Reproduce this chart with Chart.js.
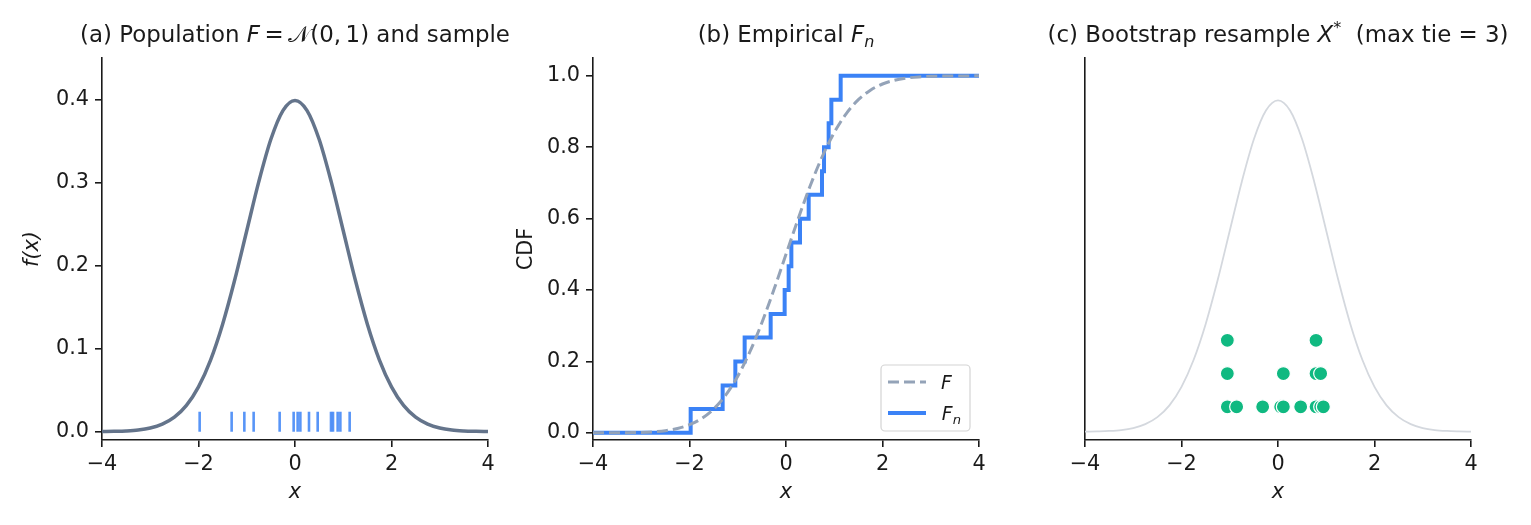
<!DOCTYPE html>
<html>
<head>
<meta charset="utf-8">
<script src="https://cdn.jsdelivr.net/npm/chart.js@4.4.1/dist/chart.umd.min.js"></script>
<style>
  body { margin: 0; background: #fff; }
  .panel { position: absolute; top: 0; }
</style>
</head>
<body>
<canvas id="pa" class="panel" width="520" height="525" style="left:0px"></canvas>
<canvas id="pb" class="panel" width="505" height="525" style="left:505px"></canvas>
<canvas id="pc" class="panel" width="521" height="525" style="left:1010px"></canvas>
<script>
// tick labels
const xTicks = [-4, -2, 0, 2, 4];
const yTicksA = [0.0, 0.1, 0.2, 0.3, 0.4];
const yTicksB = [0.0, 0.2, 0.4, 0.6, 0.8, 1.0];

const gridX = [-4, -3.75, -3.5, -3.25, -3, -2.75, -2.5, -2.25, -2, -1.75, -1.5, -1.25, -1, -0.75, -0.5, -0.25,
  0, 0.25, 0.5, 0.75, 1, 1.25, 1.5, 1.75, 2, 2.25, 2.5, 2.75, 3, 3.25, 3.5, 3.75, 4];
const pdfY = [0.0001, 0.0004, 0.0009, 0.0020, 0.0044, 0.0091, 0.0175, 0.0317, 0.0540, 0.0863, 0.1295, 0.1826,
  0.2420, 0.3011, 0.3521, 0.3867, 0.3989, 0.3867, 0.3521, 0.3011, 0.2420, 0.1826, 0.1295, 0.0863, 0.0540,
  0.0317, 0.0175, 0.0091, 0.0044, 0.0020, 0.0009, 0.0004, 0.0001];
const cdfY = [0.0000, 0.0001, 0.0002, 0.0006, 0.0013, 0.0030, 0.0062, 0.0122, 0.0228, 0.0401, 0.0668, 0.1056,
  0.1587, 0.2266, 0.3085, 0.4013, 0.5000, 0.5987, 0.6915, 0.7734, 0.8413, 0.8944, 0.9332, 0.9599, 0.9772,
  0.9878, 0.9938, 0.9970, 0.9987, 0.9994, 0.9998, 0.9999, 1.0000];

// the sample (n = 15)
const sampleX = [-1.976, -1.313, -1.050, -0.857, -0.318, -0.028, 0.055, 0.111, 0.290, 0.470, 0.746, 0.788, 0.884, 0.940, 1.133];
const rugY = 0.012;

// empirical CDF, step points
const ecdfX = [-4, -1.976, -1.313, -1.050, -0.857, -0.318, -0.028, 0.055, 0.111, 0.290, 0.470, 0.746, 0.788, 0.884, 0.940, 1.133, 4];
const ecdfY = [0, 0.067, 0.133, 0.2, 0.267, 0.333, 0.4, 0.467, 0.533, 0.6, 0.667, 0.733, 0.8, 0.867, 0.933, 1.0, 1.0];

// bootstrap resample, stacked by tie count
const bootX = [-1.050, -1.050, -1.050, -0.857, -0.318, 0.055, 0.111, 0.111, 0.470, 0.788, 0.788, 0.788, 0.884, 0.884, 0.940];
const bootY = [0.03, 0.07, 0.11, 0.03, 0.03, 0.03, 0.03, 0.07, 0.03, 0.03, 0.07, 0.11, 0.03, 0.07, 0.03];

const FAM = "'DejaVu Sans', sans-serif";
const INK = '#1a1a1a';
const TICK = 20.8;
const TITLE = 22.9;

const pts = (xs, ys) => xs.map((x, i) => ({ x: x, y: ys[i] }));
const minus = v => String(v).replace('-', '\u2212');

function drawParts(ctx, parts, cx, baseY, size) {
  const fontOf = p => (p.italic ? 'italic ' : '') + (size * (p.scale || 1)) + 'px ' + FAM;
  let total = 0;
  parts.forEach(p => { ctx.font = fontOf(p); p.w = ctx.measureText(p.text).width; total += p.w; });
  let x = cx - total / 2;
  ctx.textAlign = 'left';
  ctx.textBaseline = 'alphabetic';
  ctx.fillStyle = INK;
  parts.forEach(p => {
    ctx.font = fontOf(p);
    ctx.fillText(p.text, x, baseY + (p.dy || 0) * size);
    x += p.w;
  });
}

// panel titles with italic / sub / superscript bits
const panelTitle = {
  id: 'panelTitle',
  afterDraw(chart, args, opts) {
    const { ctx, chartArea } = chart;
    ctx.save();
    drawParts(ctx, opts.parts, (chartArea.left + chartArea.right) / 2, 42, TITLE);
    ctx.restore();
  }
};

// boxed legend in the lower right of panel (b)
const boxLegend = {
  id: 'boxLegend',
  afterDraw(chart) {
    const { ctx, chartArea } = chart;
    const w = 89, h = 66;
    const x0 = chartArea.right - 9 - w, y0 = chartArea.bottom - 9 - h;
    ctx.save();
    ctx.beginPath();
    ctx.roundRect(x0, y0, w, h, 4);
    ctx.fillStyle = 'rgba(255,255,255,0.8)';
    ctx.fill();
    ctx.strokeStyle = '#d4d4d4';
    ctx.lineWidth = 1.2;
    ctx.stroke();
    const names = [[{ text: 'F', italic: true }], [{ text: 'F', italic: true }, { text: 'n', italic: true, scale: 0.7, dy: 0.22 }]];
    chart.data.datasets.forEach((ds, i) => {
      const yy = y0 + 17 + i * 31;
      ctx.beginPath();
      ctx.setLineDash(ds.borderDash || []);
      ctx.strokeStyle = ds.borderColor;
      ctx.lineWidth = ds.borderWidth;
      ctx.moveTo(x0 + 7, yy);
      ctx.lineTo(x0 + 45, yy);
      ctx.stroke();
      ctx.setLineDash([]);
      ctx.font = 'italic 18.75px ' + FAM;
      const tw = ctx.measureText('F').width;
      drawParts(ctx, names[i], x0 + 60 + tw / 2 + (i ? 5 : 0), yy + 7, 18.75);
    });
    ctx.restore();
  }
};

function xScale() {
  return {
    type: 'linear', min: -4, max: 4,
    afterBuildTicks: s => { s.ticks = xTicks.map(v => ({ value: v })); },
    afterFit: s => { s.height = 85; },
    grid: { drawOnChartArea: false, drawTicks: true, tickLength: 7, color: INK, lineWidth: 1.6 },
    border: { display: true, color: INK, width: 1.6 },
    ticks: { color: INK, padding: 5, font: { family: FAM, size: TICK }, callback: v => minus(v) },
    title: { display: true, text: 'x', color: INK, padding: { top: 0, bottom: 20 }, font: { family: FAM, size: TICK, style: 'italic' } }
  };
}

function yScale(min, max, ticks, width, title, italic, pad) {
  return {
    type: 'linear', min: min, max: max,
    afterBuildTicks: s => { s.ticks = (ticks || []).map(v => ({ value: v })); },
    afterFit: s => { s.width = width; },
    grid: { drawOnChartArea: false, drawTicks: !!ticks, tickLength: 7, color: INK, lineWidth: 1.6 },
    border: { display: true, color: INK, width: 1.6 },
    ticks: { display: !!ticks, color: INK, padding: 6, font: { family: FAM, size: TICK }, callback: v => v.toFixed(1) },
    title: { display: !!title, text: title || '', color: INK, padding: { top: pad, bottom: 0 },
      font: { family: FAM, size: TICK, style: italic ? 'italic' : 'normal' } }
  };
}

function baseOptions(padRight, ys, titleParts) {
  return {
    responsive: false,
    animation: false,
    layout: { padding: { top: 58, right: padRight, bottom: 0, left: 0 } },
    scales: { x: xScale(), y: ys },
    plugins: { legend: { display: false }, tooltip: { enabled: false }, panelTitle: { parts: titleParts } }
  };
}

// (a) population density with rug of the sample
new Chart(document.getElementById('pa'), {
  type: 'scatter',
  data: {
    datasets: [
      { data: pts(gridX, pdfY), showLine: true, borderColor: '#64748b', borderWidth: 3.5, pointRadius: 0, cubicInterpolationMode: 'monotone' },
      { data: sampleX.map(x => ({ x: x, y: rugY })), pointStyle: 'line', rotation: 90, pointRadius: 10,
        pointBorderWidth: 2.6, borderColor: 'rgba(59,130,246,0.85)', backgroundColor: 'rgba(59,130,246,0.85)' }
    ]
  },
  options: baseOptions(32, yScale(-0.01, 0.45, yTicksA, 102, 'f(x)', true, 20), [
    { text: '(a) Population ' }, { text: 'F', italic: true }, { text: '\u2009=\u2009' }, { text: '\u{1D4A9}' }, { text: '(0,\u20091) and sample' }
  ]),
  plugins: [panelTitle]
});

// (b) true CDF vs empirical CDF
new Chart(document.getElementById('pb'), {
  type: 'scatter',
  data: {
    datasets: [
      { data: pts(gridX, cdfY), showLine: true, borderColor: '#94a3b8', borderWidth: 3, borderDash: [11, 5], pointRadius: 0, cubicInterpolationMode: 'monotone' },
      { data: pts(ecdfX, ecdfY), showLine: true, stepped: 'before', borderColor: '#3b82f6', borderWidth: 4, pointRadius: 0 }
    ]
  },
  options: baseOptions(31, yScale(-0.02, 1.05, yTicksB, 88, 'CDF', false, 9), [
    { text: '(b) Empirical ' }, { text: 'F', italic: true }, { text: 'n', italic: true, scale: 0.7, dy: 0.22 }
  ]),
  plugins: [panelTitle, boxLegend]
});

// (c) bootstrap resample as stacked dots
new Chart(document.getElementById('pc'), {
  type: 'scatter',
  data: {
    datasets: [
      { data: pts(gridX, pdfY), showLine: true, borderColor: '#d4d8de', borderWidth: 1.8, pointRadius: 0, cubicInterpolationMode: 'monotone' },
      { data: pts(bootX, bootY), pointRadius: 7, pointBorderWidth: 1.2, borderColor: '#ffffff', backgroundColor: '#10b981' }
    ]
  },
  options: baseOptions(60, yScale(-0.01, 0.45, null, 75, null, false, 0), [
    { text: '(c) Bootstrap resample ' }, { text: 'X', italic: true }, { text: '*', scale: 0.7, dy: -0.4 }, { text: '  (max tie = 3)' }
  ]),
  plugins: [panelTitle]
});
</script>
</body>
</html>
